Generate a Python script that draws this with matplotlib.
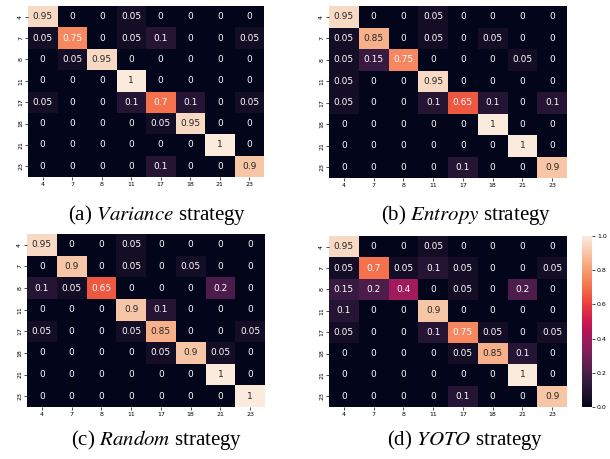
import numpy as np
import matplotlib
matplotlib.use('Agg')
import matplotlib.pyplot as plt
import seaborn as sns

labels = ['4', '7', '8', '11', '17', '18', '21', '23']

variance = [
    [0.95, 0, 0, 0.05, 0, 0, 0, 0],
    [0.05, 0.75, 0, 0.05, 0.1, 0, 0, 0.05],
    [0, 0.05, 0.95, 0, 0, 0, 0, 0],
    [0, 0, 0, 1, 0, 0, 0, 0],
    [0.05, 0, 0, 0.1, 0.7, 0.1, 0, 0.05],
    [0, 0, 0, 0, 0.05, 0.95, 0, 0],
    [0, 0, 0, 0, 0, 0, 1, 0],
    [0, 0, 0, 0, 0.1, 0, 0, 0.9],
]

entropy = [
    [0.95, 0, 0, 0.05, 0, 0, 0, 0],
    [0.05, 0.85, 0, 0.05, 0, 0.05, 0, 0],
    [0.05, 0.15, 0.75, 0, 0, 0, 0.05, 0],
    [0.05, 0, 0, 0.95, 0, 0, 0, 0],
    [0.05, 0, 0, 0.1, 0.65, 0.1, 0, 0.1],
    [0, 0, 0, 0, 0, 1, 0, 0],
    [0, 0, 0, 0, 0, 0, 1, 0],
    [0, 0, 0, 0, 0.1, 0, 0, 0.9],
]

random_s = [
    [0.95, 0, 0, 0.05, 0, 0, 0, 0],
    [0, 0.9, 0, 0.05, 0, 0.05, 0, 0],
    [0.1, 0.05, 0.65, 0, 0, 0, 0.2, 0],
    [0, 0, 0, 0.9, 0.1, 0, 0, 0],
    [0.05, 0, 0, 0.05, 0.85, 0, 0, 0.05],
    [0, 0, 0, 0, 0.05, 0.9, 0.05, 0],
    [0, 0, 0, 0, 0, 0, 1, 0],
    [0, 0, 0, 0, 0, 0, 0, 1],
]

yoto = [
    [0.95, 0, 0, 0.05, 0, 0, 0, 0],
    [0.05, 0.7, 0.05, 0.1, 0.05, 0, 0, 0.05],
    [0.15, 0.2, 0.4, 0, 0.05, 0, 0.2, 0],
    [0.1, 0, 0, 0.9, 0, 0, 0, 0],
    [0.05, 0, 0, 0.1, 0.75, 0.05, 0, 0.05],
    [0, 0, 0, 0, 0.05, 0.85, 0.1, 0],
    [0, 0, 0, 0, 0, 0, 1, 0],
    [0, 0, 0, 0, 0.1, 0, 0, 0.9],
]

names = ['Variance', 'Entropy', 'Random', 'YOTO']
letters = ['(a)', '(b)', '(c)', '(d)']

W, H = 610, 459
fig = plt.figure(figsize=(W / 100, H / 100), dpi=100)

def px(l, t, r, b):
    return [l / W, (H - b) / H, (r - l) / W, (b - t) / H]

# pixel boxes of the four heatmaps
boxes = [(28, 6, 264, 177), (329, 6, 567, 178),
         (27, 234, 265, 407), (329, 236, 567, 407)]
caps = [(157, 215), (466, 215), (157, 440), (465, 440)]

cax = fig.add_axes(px(582, 236, 592, 407))

for i, data in enumerate([variance, entropy, random_s, yoto]):
    ax = fig.add_axes(px(*boxes[i]))
    last = (i == 3)
    sns.heatmap(np.array(data), ax=ax, annot=True, fmt='g', vmin=0, vmax=1,
                xticklabels=labels, yticklabels=labels,
                annot_kws={'fontsize': 6.5},
                cbar=last, cbar_ax=cax if last else None)
    ax.tick_params(labelsize=4.5, length=2, width=0.5, pad=1.5)
    ax.set_yticklabels(labels, rotation=90, va='center')
    cx, cy = caps[i]
    fig.text(cx / W, 1 - cy / H,
             letters[i] + ' $\\mathit{' + names[i] + '}$ strategy',
             ha='center', va='center', family='Liberation Serif', fontsize=15,
             math_fontfamily='stix')

cax.tick_params(labelsize=4.5, length=2, width=0.5, pad=1.5)
cax.set_yticks([0, 0.2, 0.4, 0.6, 0.8, 1.0])
cax.set_yticklabels(['0.0', '0.2', '0.4', '0.6', '0.8', '1.0'])

fig.savefig('out.png', dpi=100)
